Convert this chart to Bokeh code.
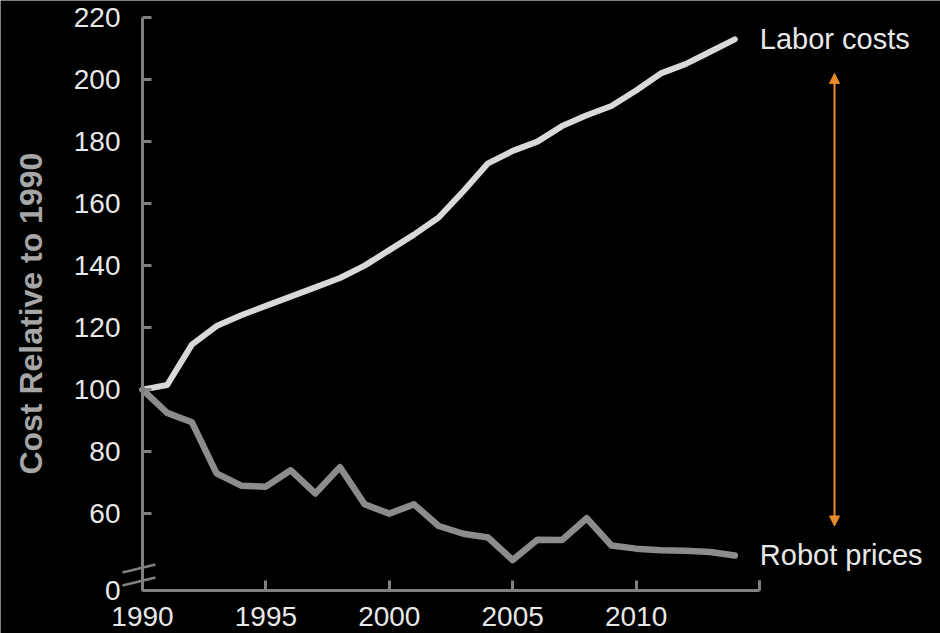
import math
from bokeh.plotting import figure
from bokeh.models import Range1d, FixedTicker, Label, Arrow, NormalHead, ColumnDataSource, LinearAxis
from bokeh.embed import file_html
from bokeh.resources import INLINE

# ---- data ----
years = list(range(1990, 2015))
labor = [100, 101.5, 114.5, 120.5, 124, 127, 130, 133, 136, 140,
         145, 150, 155.5, 164, 173, 177, 180, 185, 188.5, 191.5,
         196.5, 202, 205, 209, 213]
robot = [100, 92.5, 89.5, 73, 69, 68.7, 74, 66.5, 75, 63,
         60, 63, 56, 53.5, 52.3, 45, 51.6, 51.5, 58.5, 49.7,
         48.7, 48.2, 48, 47.6, 46.5]
x_ticks = [1990, 1995, 2000, 2005, 2010, 2015]
x_tick_labels = {1990: "1990", 1995: "1995", 2000: "2000", 2005: "2005", 2010: "2010", 2015: ""}
y_break_value = 35.2          # axis origin shown as "0" (broken axis)
y_ticks = [y_break_value, 60, 80, 100, 120, 140, 160, 180, 200, 220]
series_names = ["Labor costs", "Robot prices"]
y_title = "Cost Relative to 1990"

# ---- layout ----
W, H = 940, 633
PX_PER_YEAR = 24.68
AXIS_PX = 142                         # screen x of the y axis
AXIS_PY = 590                         # screen y of the x axis
x_start = 1990 - AXIS_PX / PX_PER_YEAR
x_end = x_start + W / PX_PER_YEAR
PX_PER_UNIT = 3.1
y_start = y_break_value - (H - AXIS_PY) / PX_PER_UNIT
y_end = y_start + H / PX_PER_UNIT

AXIS_COLOR = "#808080"
TEXT_COLOR = "#e8e8e8"
FONT = "Liberation Sans"

p = figure(width=W, height=H,
           x_range=Range1d(x_start, x_end), y_range=Range1d(y_start, y_end),
           x_axis_location=None, y_axis_location=None,
           min_border_left=0, min_border_right=0, min_border_top=0, min_border_bottom=0,
           output_backend="svg", toolbar_location=None)
p.background_fill_color = "black"
p.border_fill_color = "black"
p.outline_line_color = None
p.xgrid.visible = False
p.ygrid.visible = False

src = ColumnDataSource(dict(year=years, labor=labor, robot=robot))
p.line("year", "labor", source=src, line_color="#d9d9d9", line_width=6,
       line_cap="round", line_join="round")
p.line("year", "robot", source=src, line_color="#8c8c8c", line_width=6.5,
       line_cap="round", line_join="round")

def style_axis(ax, tick_in, standoff):
    ax.axis_line_color = AXIS_COLOR
    ax.axis_line_width = 3
    ax.major_tick_line_color = AXIS_COLOR
    ax.major_tick_line_width = 3
    ax.major_tick_in = tick_in
    ax.major_tick_out = 0
    ax.minor_tick_line_color = None
    ax.major_label_standoff = standoff
    ax.major_label_text_font = FONT
    ax.major_label_text_font_size = "28px"
    ax.major_label_text_color = TEXT_COLOR

# x axis, fixed at the broken origin
xa = LinearAxis(fixed_location=y_break_value, bounds=(x_ticks[0], x_ticks[-1]))
xa.ticker = FixedTicker(ticks=x_ticks)
xa.major_label_overrides = x_tick_labels
style_axis(xa, 10, 16)
xa.axis_line_color = None
p.add_layout(xa, "below")

# explicit x-axis line and closing tick (1990 -> 2015)
p.add_layout(Arrow(start=None, end=None, x_start=x_ticks[0], y_start=y_break_value,
                   x_end=x_ticks[-1], y_end=y_break_value,
                   line_color=AXIS_COLOR, line_width=3))
p.add_layout(Arrow(start=None, end=None, x_start=x_ticks[-1], y_start=y_break_value,
                   x_end=x_ticks[-1], y_end=y_break_value + 10 / PX_PER_UNIT,
                   line_color=AXIS_COLOR, line_width=3))

# y axis, fixed at 1990
ya = LinearAxis(fixed_location=1990, bounds=(y_break_value, 220))
ya.ticker = FixedTicker(ticks=y_ticks)
ya.major_label_overrides = {y_break_value: "0"}
style_axis(ya, 9, 22)
p.add_layout(ya, "left")

# y-axis title
p.add_layout(Label(x=1990 - 112 / PX_PER_YEAR, y=124.5, text=y_title,
                   angle=math.pi / 2, text_align="center", text_baseline="middle",
                   text_font=FONT, text_font_style="bold", text_font_size="32px",
                   text_color="#a6a6a6"))

# axis break marks
for y0 in (36.8, 41.0):
    p.add_layout(Arrow(start=None, end=None,
                       x_start=1990 - 20 / PX_PER_YEAR, y_start=y0,
                       x_end=1990 + 13 / PX_PER_YEAR, y_end=y0 + 8 / PX_PER_UNIT,
                       line_color=AXIS_COLOR, line_width=2.5))

# series labels
p.add_layout(Label(x=years[-1], y=labor[-1], x_offset=25, text=series_names[0],
                   text_baseline="middle", text_font=FONT, text_font_size="29px",
                   text_color=TEXT_COLOR))
p.add_layout(Label(x=years[-1], y=robot[-1], x_offset=25, text=series_names[1],
                   text_baseline="middle", text_font=FONT, text_font_size="29px",
                   text_color=TEXT_COLOR))

# orange gap arrow
ORANGE = "#e88b2a"
arrow_x = 1990 + (834 - AXIS_PX) / PX_PER_YEAR
p.add_layout(Arrow(start=NormalHead(size=10, fill_color=ORANGE, line_color=ORANGE),
                   end=NormalHead(size=10, fill_color=ORANGE, line_color=ORANGE),
                   x_start=arrow_x, y_start=56, x_end=arrow_x, y_end=202,
                   line_color=ORANGE, line_width=2))

open("out.html", "w").write(file_html(p, INLINE))
